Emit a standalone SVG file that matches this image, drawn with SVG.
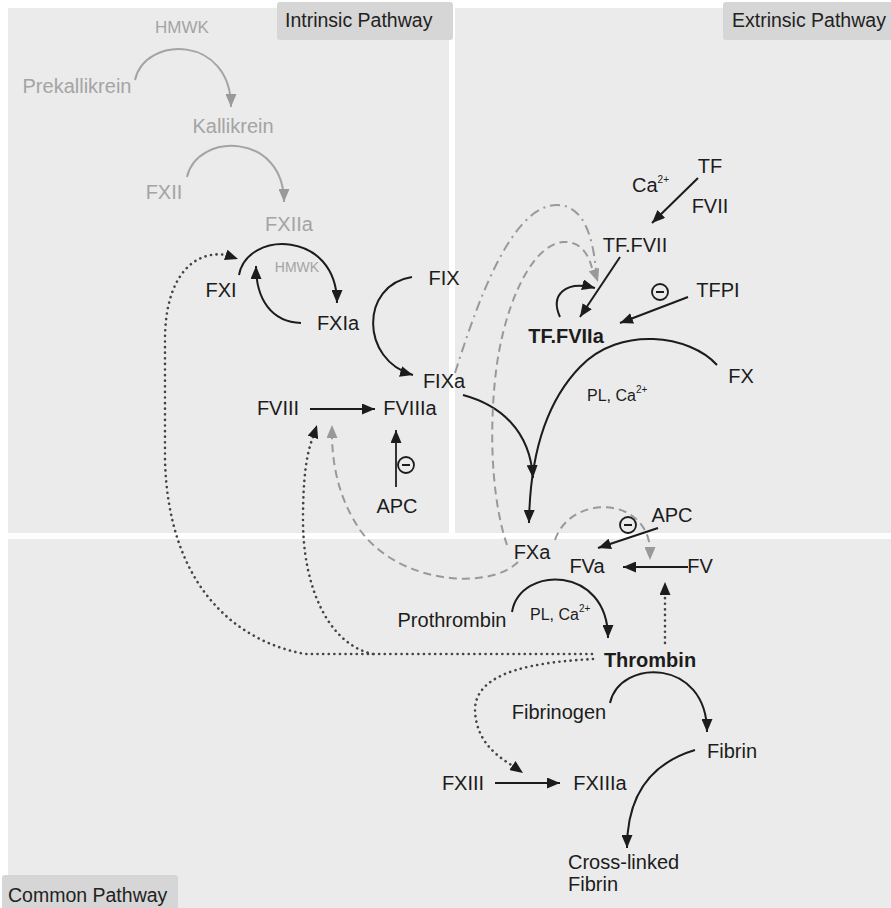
<svg xmlns="http://www.w3.org/2000/svg" width="891" height="908" viewBox="0 0 891 908">
<style>
text{font-family:"Liberation Sans",Arial,sans-serif;font-size:20px;fill:#1c1c1c}
.c{text-anchor:middle}
.g{fill:#a4a4a4}
.b{font-weight:bold}
.s{font-size:16px}
.sup{font-size:10px}
.lbl{font-size:19.5px;fill:#222}
.panel{fill:#ebebeb}
.tag{fill:#d6d6d6}
.k{fill:none;stroke:#1c1c1c;stroke-width:2;marker-end:url(#ak)}
.gr{fill:none;stroke:#a4a4a4;stroke-width:2;marker-end:url(#ag)}
.dot{fill:none;stroke:#444;stroke-width:2.6;stroke-dasharray:0.1 5.5;stroke-linecap:round}
.dash{fill:none;stroke:#999;stroke-width:2;stroke-dasharray:8 5}
.dd{fill:none;stroke:#999;stroke-width:2;stroke-dasharray:10 5 2 5}
.inh{fill:none;stroke:#1c1c1c;stroke-width:2}
</style>
<defs>
<marker id="ak" markerUnits="userSpaceOnUse" markerWidth="13" markerHeight="11" refX="13" refY="5.5" orient="auto"><path d="M0,0 L13,5.5 L0,11 z" fill="#1c1c1c"/></marker>
<marker id="ag" markerUnits="userSpaceOnUse" markerWidth="13" markerHeight="11" refX="13" refY="5.5" orient="auto"><path d="M0,0 L13,5.5 L0,11 z" fill="#999"/></marker>
<g id="minus"><circle cx="0" cy="0" r="8" fill="#ebebeb" stroke="#1c1c1c" stroke-width="1.8"/><line x1="-4" y1="0" x2="4" y2="0" stroke="#1c1c1c" stroke-width="2"/></g>
</defs>
<rect width="891" height="908" fill="#fff"/>
<g id="panels">
<rect class="panel" x="8" y="8" width="441" height="525"/>
<rect class="panel" x="455" y="8" width="436" height="525"/>
<rect class="panel" x="8" y="539" width="883" height="369"/>
<rect class="tag" x="277" y="2" width="176" height="38" rx="3"/>
<text class="lbl" x="285" y="27">Intrinsic Pathway</text>
<rect class="tag" x="723" y="2" width="172" height="38" rx="3"/>
<text class="lbl" x="732" y="27">Extrinsic Pathway</text>
<rect class="tag" x="2" y="875" width="176" height="36" rx="3"/>
<text class="lbl" x="8" y="902">Common Pathway</text>
</g>
<g id="connectors">
<path class="gr" d="M135,80 C145,35 231,35 231,107"/>
<path class="gr" d="M187,177 C197,132 284,132 284,202"/>
<path class="k" d="M239,275 C247,230 337,230 337,303"/>
<path class="k" d="M301,323 C272,322 256,300 256,266"/>
<path class="k" d="M412,277 C360,285 360,360 413,375"/>
<path class="k" d="M310,409 L375,409"/>
<path d="M396,487 L396,430" fill="none" stroke="#333" stroke-width="2" marker-end="url(#ak)"/>
<path class="k" d="M698,178 L652,223"/>
<path class="k" d="M620,257 L580,317"/>
<path class="k" d="M688,297 L620,323"/>
<path class="k" d="M560,317 C550,295 565,280 595,288"/>
<path class="k" d="M717,365 C690,335 620,325 580,367 C548,400 530,450 529,523"/>
<path class="k" d="M463,395 C500,405 530,430 533,478"/>
<path class="k" d="M688,567 L623,567"/>
<path class="k" d="M658,528 L598,548"/>
<path class="k" d="M512,612 C520,565 608,565 608,638"/>
<path class="k" d="M610,703 C620,658 707,658 707,732"/>
<path class="k" d="M495,783 L560,783"/>
<path class="k" d="M695,750 C655,762 627,790 627,848"/>
<path class="dot" d="M592,654 L305,654 C230,640 168,580 165,460 L165,340 C165,275 195,250 226,255"/>
<path d="M226,255 L238,259" fill="none" stroke="none" marker-end="url(#ak)"/>
<path class="dot" d="M373,654 C330,645 303,590 303,520 C303,480 306,455 313,437"/>
<path d="M313,437 L317,425" fill="none" stroke="none" marker-end="url(#ak)"/>
<path class="dot" d="M593,659 C540,662 475,670 475,710 C476,740 495,755 513,766"/>
<path d="M513,766 L523,773" fill="none" stroke="none" marker-end="url(#ak)"/>
<path class="dot" d="M665,643 L665,594"/>
<path d="M665,594 L665,582" fill="none" stroke="none" marker-end="url(#ak)"/>
<path class="dash" d="M518,562 C490,590 400,585 360,530 C340,500 333,470 332,438"/>
<path d="M332,438 L332,425" fill="none" stroke="none" marker-end="url(#ag)"/>
<path class="dash" d="M555,540 C570,495 645,495 650,548"/>
<path d="M650,548 L650,560" fill="none" stroke="none" marker-end="url(#ag)"/>
<path class="dash" d="M507,545 C495,510 488,450 495,380 C502,310 530,245 563,242 C580,241 588,253 592,268"/>
<path class="dd" d="M455,373 C475,310 510,205 557,205 C585,205 593,240 596,270"/>
<path d="M594,270 L598,282" fill="none" stroke="none" marker-end="url(#ag)"/>
<use href="#minus" x="406" y="465"/>
<use href="#minus" x="660" y="292"/>
<use href="#minus" x="628" y="525"/>
</g>
<g id="n-hmwk1"><text class="c g" x="182" y="33" style="font-size:17px">HMWK</text></g>
<g id="n-prekallikrein"><text class="c g" x="77" y="93">Prekallikrein</text></g>
<g id="n-kallikrein"><text class="c g" x="233" y="133">Kallikrein</text></g>
<g id="n-fxii"><text class="c g" x="164" y="199">FXII</text></g>
<g id="n-fxiia"><text class="c g" x="289" y="231">FXIIa</text></g>
<g id="n-fxi"><text class="c" x="221" y="297">FXI</text></g>
<g id="n-hmwk2"><text class="c g" x="297" y="272" style="font-size:14px">HMWK</text></g>
<g id="n-fxia"><text class="c" x="338" y="330">FXIa</text></g>
<g id="n-fix"><text class="c" x="444" y="285">FIX</text></g>
<g id="n-fixa"><text class="c" x="444" y="388">FIXa</text></g>
<g id="n-fviii"><text class="c" x="278" y="415">FVIII</text></g>
<g id="n-fviiia"><text class="c" x="410" y="415">FVIIIa</text></g>
<g id="n-apc1"><text class="c" x="397" y="513">APC</text></g>
<g id="n-tf"><text class="c" x="710" y="173">TF</text></g>
<g id="n-ca"><text x="632" y="192">Ca<tspan class="sup" dy="-9">2+</tspan></text></g>
<g id="n-fvii"><text class="c" x="710" y="213">FVII</text></g>
<g id="n-tffvii"><text class="c" x="635" y="252">TF.FVII</text></g>
<g id="n-tfpi"><text class="c" x="718" y="297">TFPI</text></g>
<g id="n-tffviia"><text class="c b" x="566" y="343">TF.FVIIa</text></g>
<g id="n-fx"><text class="c" x="741" y="383">FX</text></g>
<g id="n-plca1"><text class="s" x="587" y="401">PL, Ca<tspan class="sup" dy="-8">2+</tspan></text></g>
<g id="n-apc2"><text class="c" x="672" y="522">APC</text></g>
<g id="n-fxa"><text class="c" x="532" y="559">FXa</text></g>
<g id="n-fva"><text class="c" x="587" y="573">FVa</text></g>
<g id="n-fv"><text class="c" x="700" y="573">FV</text></g>
<g id="n-prothrombin"><text class="c" x="452" y="627">Prothrombin</text></g>
<g id="n-plca2"><text class="s" x="530" y="620">PL, Ca<tspan class="sup" dy="-8">2+</tspan></text></g>
<g id="n-thrombin"><text class="c b" x="650" y="667">Thrombin</text></g>
<g id="n-fibrinogen"><text class="c" x="559" y="719">Fibrinogen</text></g>
<g id="n-fibrin"><text x="707" y="758">Fibrin</text></g>
<g id="n-fxiii"><text class="c" x="463" y="790">FXIII</text></g>
<g id="n-fxiiia"><text class="c" x="600" y="790">FXIIIa</text></g>
<g id="n-crosslinked"><text x="568" y="869">Cross-linked</text><text x="568" y="891">Fibrin</text></g>
</svg>
